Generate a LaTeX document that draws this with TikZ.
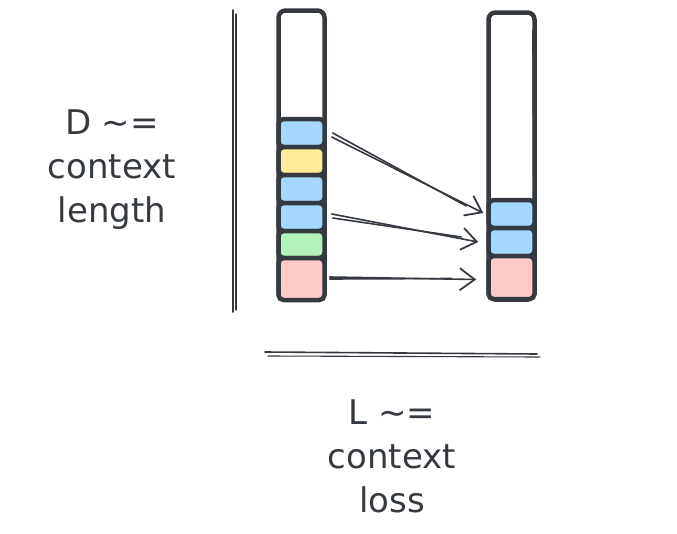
\documentclass[tikz,border=0pt]{standalone}
\usepackage{fontspec}
\setmainfont{DejaVu Sans}
\usetikzlibrary{arrows.meta,calc}
\definecolor{ink}{HTML}{343A40}
\definecolor{cblue}{HTML}{A5D8FF}
\definecolor{cyellow}{HTML}{FFEC99}
\definecolor{cgreen}{HTML}{B2F2BB}
\definecolor{cpink}{HTML}{FFC9C9}
\tikzset{
  col/.style={draw=ink, line width=4.5pt, rounded corners=7pt, minimum width=46pt, inner sep=0pt},
  blk/.style={draw=ink, line width=4.5pt, rounded corners=5pt, minimum width=46pt, inner sep=0pt},
  thin/.style={draw=ink, line width=1.6pt, line cap=round},
  arr/.style={thin, -{Straight Barb[length=15pt,width=22pt,line width=1.8pt]}},
  lbl/.style={text=ink, align=center, font=\fontsize{34}{44}\selectfont, inner sep=0pt}
}
\begin{document}
\begin{tikzpicture}[x=1pt,y=-1pt]
\useasboundingbox (0,0) rectangle (677,533);
% columns
\node[col, minimum height=289pt] (colL) at (301.5,155) {};
\node[col, minimum height=287pt] (colR) at (511.5,156) {};
\draw[thin, line width=1.2pt] ($(colR.north east)+(-4,20)$) -- ($(colR.south east)+(-3,-25)$);
% left blocks
\node[blk, fill=cblue,   minimum height=28pt] (l1) at (301.5,133) {};
\node[blk, fill=cyellow, minimum height=28pt] (l2) at (301.5,161) {};
\node[blk, fill=cblue,   minimum height=28pt] (l3) at (301.5,189) {};
\node[blk, fill=cblue,   minimum height=28pt] (l4) at (301.5,217) {};
\node[blk, fill=cgreen,  minimum height=27pt] (l5) at (301.5,244.5) {};
\node[blk, fill=cpink,   minimum height=42pt] (l6) at (301.5,279) {};
% right blocks
\node[blk, fill=cblue, minimum height=28pt] (r1) at (511.5,214) {};
\node[blk, fill=cblue, minimum height=28pt] (r2) at (511.5,242) {};
\node[blk, fill=cpink, minimum height=43pt] (r3) at (511.5,277.5) {};
% arrows
\draw[arr] ($(l1.east)+(5,4)$) -- ($(r1.west)+(-3,-1)$);
\draw[thin] ($(l1.east)+(6,0)$) -- ($(r1.west)+(-20,-8)$);
\draw[arr] ($(l4.east)+(5,-3)$) -- ($(r2.west)+(-8,0)$);
\draw[thin] ($(l4.east)+(6,1)$) -- ($(r2.west)+(-25,-5)$);
\draw[arr] ($(l6.east)+(3,-2)$) -- ($(r3.west)+(-10,2)$);
\draw[thin] ($(l6.east)+(3,0)$) -- ($(r3.west)+(-35,1)$);
% axes
\coordinate (vt) at (233,10);
\coordinate (vb) at (233,312);
\draw[thin] (vt) -- (vb);
\draw[thin, line width=1.1pt] (236,14) -- (236,310);
\coordinate (hl) at (265,352);
\coordinate (hr) at (537,354);
\draw[thin] (hl) -- (hr);
\draw[thin, line width=1.1pt] (268,356) -- (540,357);
% labels
\node[lbl] (tD) at (112,170) {D \textasciitilde=\\context\\length};
\node[lbl] (tL) at (392,456) {L \textasciitilde=\\context\\loss};
\end{tikzpicture}
\end{document}
